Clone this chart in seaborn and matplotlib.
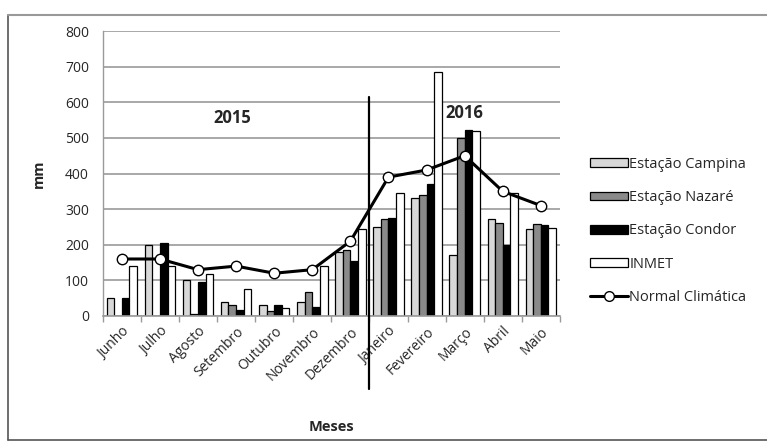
import numpy as np
import pandas as pd
import matplotlib
matplotlib.use("Agg")
import matplotlib.pyplot as plt
from matplotlib.patches import Patch
from matplotlib.lines import Line2D
import seaborn as sns

meses = ["Junho", "Julho", "Agosto", "Setembro", "Outubro", "Novembro",
         "Dezembro", "Janeiro", "Fevereiro", "Março", "Abril", "Maio"]
campina = [50, 200, 100, 38, 30, 38, 180, 250, 330, 172, 272, 245]
nazare = [0, 0, 5, 30, 15, 68, 185, 272, 340, 500, 260, 258]
condor = [50, 205, 95, 18, 32, 25, 155, 275, 370, 522, 200, 255]
inmet = [140, 140, 118, 77, 22, 140, 245, 345, 685, 520, 345, 248]
normal = [160, 160, 130, 140, 120, 130, 210, 390, 410, 450, 350, 310]

series = ["Estação Campina", "Estação Nazaré", "Estação Condor", "INMET"]
colors = ["#d8d8d8", "#8a8a8a", "#000000", "#ffffff"]

df = pd.DataFrame({
    "Meses": meses * 4,
    "mm": campina + nazare + condor + inmet,
    "Série": np.repeat(series, len(meses)),
})

sns.set_theme(style="white")
plt.rcParams["font.family"] = ["Open Sans", "DejaVu Sans"]

fig = plt.figure(figsize=(7.67, 4.45), dpi=100)
ax = fig.add_axes([0.134, 0.29, 0.596, 0.64])

sns.barplot(data=df, x="Meses", y="mm", hue="Série", hue_order=series,
            palette=colors, edgecolor="black", linewidth=0.9,
            width=0.8, gap=0.0, ax=ax, legend=False)

x = np.arange(len(meses))
ax.plot(x, normal, color="black", lw=2.2, marker="o", ms=7.5,
        mfc="white", mec="black", mew=1.0, zorder=5)

ax.set_ylim(0, 800)
ax.set_xlim(-0.5, len(meses) - 0.5)
ax.set_yticks(range(0, 801, 100))
ax.yaxis.grid(True, color="#9a9a9a", lw=1.2)
ax.set_axisbelow(True)
for s in ["top", "right"]:
    ax.spines[s].set_visible(False)
ax.spines["left"].set_color("#9a9a9a")
ax.spines["bottom"].set_color("#9a9a9a")
ax.spines["left"].set_linewidth(1.0)
ax.spines["bottom"].set_linewidth(1.2)

ax.set_xticks(x)
ax.set_xticklabels(meses, rotation=45, ha="right", rotation_mode="anchor",
                   fontsize=10)
ax.tick_params(axis="x", length=0, pad=6)
ax.set_xticks(np.arange(-0.5, len(meses), 1), minor=True)
ax.tick_params(axis="x", which="minor", length=4, color="#9a9a9a", bottom=True)
ax.tick_params(axis="y", length=0, labelsize=10, pad=10)

ax.set_xlabel("Meses", fontsize=10.5, fontweight="bold", labelpad=26)
ax.set_ylabel("mm", fontsize=10.5, fontweight="bold", labelpad=14)

# division between years
ax.plot([6.5, 6.5], [-205, 615], color="black", lw=1.6, clip_on=False, zorder=6)
ax.text(2.9, 555, "2015", fontsize=12, fontweight="bold", ha="center", va="center")
ax.text(9.0, 570, "2016", fontsize=12, fontweight="bold", ha="center", va="center")

handles = [Patch(facecolor=c, edgecolor="black", lw=0.9, label=s)
           for s, c in zip(series, colors)]
handles.append(Line2D([0], [0], color="black", lw=2.2, marker="o", ms=7,
                      mfc="white", mec="black", label="Normal Climática"))
fig.legend(handles=handles, loc="center left", bbox_to_anchor=(0.769, 0.481),
           frameon=False, fontsize=10.5, handlelength=2.6, handleheight=0.55,
           handletextpad=0.1, labelspacing=1.25, borderaxespad=0, borderpad=0)

# outer frame: left, top and bottom edges
frame = dict(transform=fig.transFigure, color="#555555", lw=1.2)
fig.add_artist(Line2D([0.011, 0.011], [0.012, 0.967], **frame))
fig.add_artist(Line2D([0.011, 1.0], [0.967, 0.967], transform=fig.transFigure,
                      color="#999999", lw=1.5))
fig.add_artist(Line2D([0.011, 1.0], [0.012, 0.012], **frame))

fig.savefig("out.png", dpi=100)
